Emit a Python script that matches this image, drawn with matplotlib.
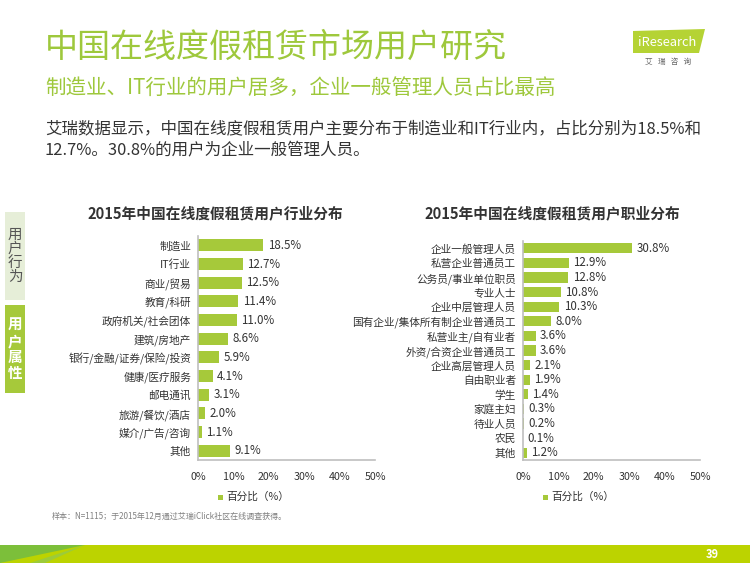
import matplotlib
matplotlib.use('Agg')
import matplotlib.pyplot as plt
from matplotlib.patches import Polygon, Rectangle

plt.rcParams['font.family'] = ['Noto Sans CJK SC', 'DejaVu Sans']

# industry distribution
industries = ['制造业', 'IT行业', '商业/贸易', '教育/科研', '政府机关/社会团体', '建筑/房地产',
              '银行/金融/证券/保险/投资', '健康/医疗服务', '邮电通讯', '旅游/餐饮/酒店',
              '媒介/广告/咨询', '其他']
industry_pct = [18.5, 12.7, 12.5, 11.4, 11.0, 8.6, 5.9, 4.1, 3.1, 2.0, 1.1, 9.1]

# occupation distribution
jobs = ['企业一般管理人员', '私营企业普通员工', '公务员/事业单位职员', '专业人士', '企业中层管理人员',
        '国有企业/集体所有制企业普通员工', '私营业主/自有业者', '外资/合资企业普通员工',
        '企业高层管理人员', '自由职业者', '学生', '家庭主妇', '待业人员', '农民', '其他']
job_pct = [30.8, 12.9, 12.8, 10.8, 10.3, 8.0, 3.6, 3.6, 2.1, 1.9, 1.4, 0.3, 0.2, 0.1, 1.2]

x_ticks = [0, 10, 20, 30, 40, 50]
x_labels = ['0%', '10%', '20%', '30%', '40%', '50%']

GREEN = '#a6c93a'
TITLE_GREEN = '#9ec83c'
DARK = '#333333'
GRID = '#bfbfbf'

fig = plt.figure(figsize=(7.5, 5.63), dpi=100)

def px(x, y):
    return x / 750, 1 - y / 563

# header texts
fig.text(*px(45, 47), '中国在线度假租赁市场用户研究', fontsize=23.8, color=TITLE_GREEN, va='center')
fig.text(*px(45, 88), '制造业、IT行业的用户居多，企业一般管理人员占比最高', fontsize=14.8,
         color=TITLE_GREEN, va='center')
fig.text(*px(45, 129), '艾瑞数据显示，中国在线度假租赁用户主要分布于制造业和IT行业内，占比分别为18.5%和',
         fontsize=11.9, color=DARK, va='center')
fig.text(*px(45, 150), '12.7%。30.8%的用户为企业一般管理人员。', fontsize=11.9, color=DARK, va='center')

# logo
logo = Polygon([px(633, 31), px(705, 29), px(699, 53), px(633, 53)], closed=True,
               transform=fig.transFigure, facecolor='#b5d334', edgecolor='none')
fig.patches.append(logo)
fig.text(*px(667, 42), 'iResearch', fontsize=9.3, color='white', ha='center', va='center')
fig.text(*px(668, 62), '艾   瑞   咨   询', fontsize=5.5, color='#666666', ha='center', va='center')

# side tabs
fig.patches.append(Rectangle(px(5, 300), 20 / 750, 88 / 563, transform=fig.transFigure,
                             facecolor='#e6eed8', edgecolor='none'))
fig.patches.append(Rectangle(px(5, 393), 20 / 750, 88 / 563, transform=fig.transFigure,
                             facecolor='#a6c93a', edgecolor='none'))
fig.text(*px(15, 256), '用\n户\n行\n为', fontsize=10.5, color='#555555', ha='center', va='center',
         linespacing=1.0)
fig.text(*px(15, 349), '用\n户\n属\n性', fontsize=10.5, color='white', ha='center', va='center',
         linespacing=1.0, fontweight='bold')


def draw_bars(ax, cats, vals, title, title_x, bar_h):
    y = list(range(len(cats)))
    ax.barh(y, vals, height=bar_h, color=GREEN)
    ax.set_ylim(len(cats) - 0.5, -0.5)
    ax.set_xlim(0, 50)
    ax.set_yticks(y)
    ax.set_yticklabels(cats, fontsize=7.7, color=DARK)
    ax.set_xticks(x_ticks)
    ax.set_xticklabels(x_labels, fontsize=7.7, color=DARK)
    ax.tick_params(length=0, pad=5)
    ax.tick_params(axis='x', pad=9)
    for s in ['top', 'right']:
        ax.spines[s].set_visible(False)
    for s in ['left', 'bottom']:
        ax.spines[s].set_color(GRID)
        ax.spines[s].set_linewidth(1.2)
    for yi, v in zip(y, vals):
        ax.text(v + 1.2, yi, f'{v:.1f}%', va='center', ha='left', fontsize=8.3, color=DARK)
    fig.text(*px(title_x, 213), title, fontsize=10.6, fontweight='bold', color=DARK,
             ha='center', va='center')


ax1 = fig.add_axes([198 / 750, 103 / 563, 177 / 750, 224 / 563])
draw_bars(ax1, industries, industry_pct, '2015年中国在线度假租赁用户行业分布', 215, 0.65)

ax2 = fig.add_axes([523 / 750, 103 / 563, 177 / 750, 219 / 563])
draw_bars(ax2, jobs, job_pct, '2015年中国在线度假租赁用户职业分布', 552, 0.7)

# legends
for lx in (218, 543):
    fig.patches.append(Rectangle(px(lx, 500), 5 / 750, 5 / 563, transform=fig.transFigure,
                                 facecolor=GREEN, edgecolor='none'))
    fig.text(*px(lx + 8, 497), '百分比（%）', fontsize=7.7, color=DARK, va='center')

# footnote
fig.text(*px(52, 516), '样本：N=1115；于2015年12月通过艾瑞iClick社区在线调查获得。', fontsize=5.8,
         color='#808080', va='center')

# bottom band
fig.patches.append(Rectangle((0, 0), 1, 18 / 563, transform=fig.transFigure,
                             facecolor='#bcd300', edgecolor='none'))
fig.patches.append(Polygon([px(0, 545), px(85, 545), px(0, 563)], closed=True,
                           transform=fig.transFigure, facecolor='#7cbf3a', edgecolor='none'))
fig.patches.append(Polygon([px(30, 563), px(85, 545), px(45, 563)], closed=True,
                           transform=fig.transFigure, facecolor='#9ccb3a', edgecolor='none'))
fig.text(*px(712, 554), '39', fontsize=8, color='white', fontweight='bold', ha='center', va='center')

fig.savefig('out.png', dpi=100)
